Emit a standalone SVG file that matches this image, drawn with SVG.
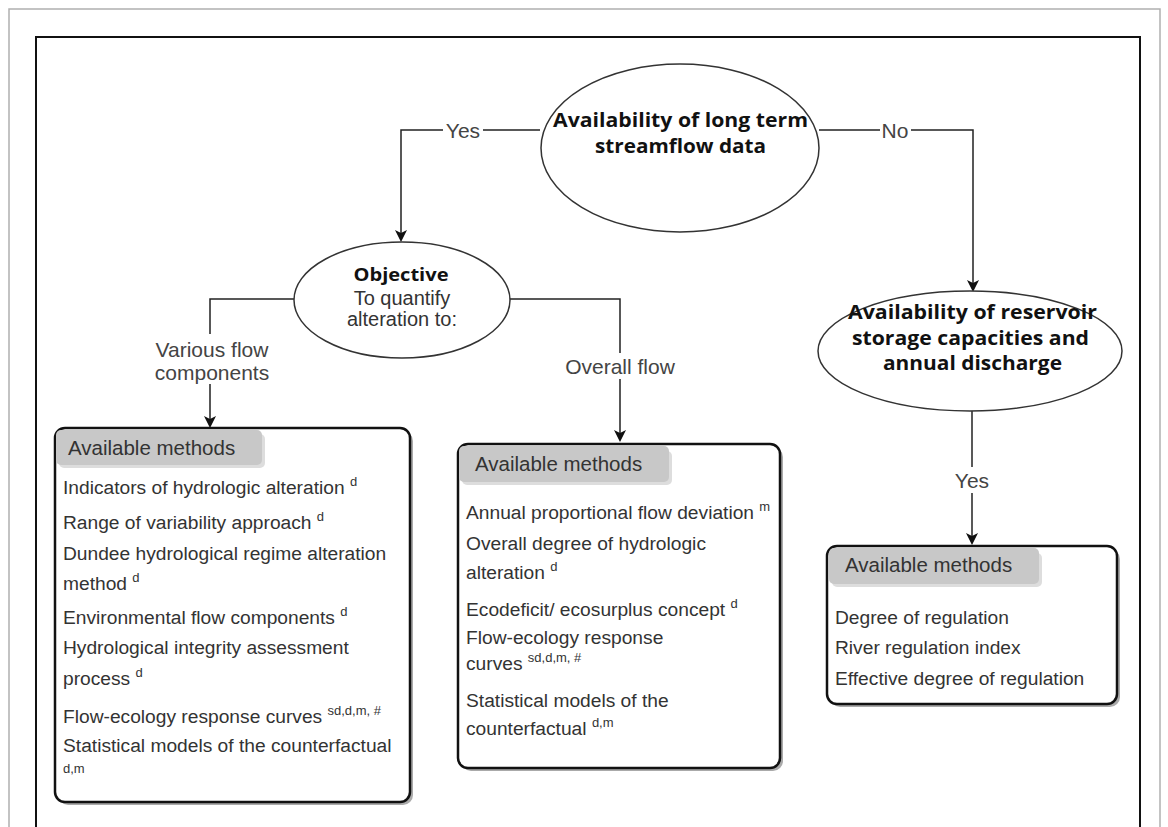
<svg xmlns="http://www.w3.org/2000/svg" width="1168" height="827" viewBox="0 0 1168 827">
<style>
.ell{fill:#fff;stroke:#333;stroke-width:1.5}
.bt{font-family:"Open Sans","Liberation Sans",Arial,sans-serif;font-weight:bold;font-size:19.5px;fill:#111;text-anchor:middle}
.lbl{font-family:"Liberation Sans",Arial,sans-serif;font-size:21px;fill:#444;text-anchor:middle}
.it{font-family:"Liberation Sans",Arial,sans-serif;font-size:19.2px;fill:#333}
.sup{font-size:13px}
.hdr{font-family:"Liberation Sans",Arial,sans-serif;font-size:20.5px;fill:#333}
.box{fill:#fff;stroke:#111;stroke-width:2.5}
.shd{fill:#aaa}
.tab{fill:#c8c8c8}
.tabs{fill:#ddd}
.con{fill:none;stroke:#222;stroke-width:1.5}
</style>
<defs>
<marker id="arr" markerWidth="12" markerHeight="12" refX="10" refY="6" orient="auto" markerUnits="userSpaceOnUse">
<path d="M0,0 L12,6 L0,12 L3,6 z" fill="#111"/>
</marker>
</defs>
<rect x="0" y="0" width="1168" height="827" fill="#fff"/>
<path d="M9,827 V9 H1160 V827" fill="none" stroke="#b0b0b0" stroke-width="1.5"/>
<path d="M36,827 V37 H1140 V827" fill="none" stroke="#111" stroke-width="2"/>

<g id="connectors">
<path class="con" d="M540,130 H401 V240" marker-end="url(#arr)"/>
<path class="con" d="M819,130 H973 V290" marker-end="url(#arr)"/>
<path class="con" d="M294,299 H210 V426" marker-end="url(#arr)"/>
<path class="con" d="M509,299 H620 V440" marker-end="url(#arr)"/>
<path class="con" d="M972,410 V543" marker-end="url(#arr)"/>
<rect x="443" y="119" width="40" height="22" fill="#fff"/>
<text class="lbl" x="463" y="138">Yes</text>
<rect x="880" y="119" width="31" height="22" fill="#fff"/>
<text class="lbl" x="895" y="138">No</text>
<rect x="148" y="334" width="130" height="50" fill="#fff"/>
<text class="lbl" x="212" y="357">Various flow</text>
<text class="lbl" x="212" y="380">components</text>
<rect x="560" y="353" width="120" height="26" fill="#fff"/>
<text class="lbl" x="620" y="374">Overall flow</text>
<rect x="952" y="467" width="40" height="26" fill="#fff"/>
<text class="lbl" x="972" y="488">Yes</text>
</g>

<g id="node-streamflow">
<ellipse class="ell" cx="680" cy="148" rx="139" ry="84"/>
<text class="bt" x="680.5" y="127" textLength="255" lengthAdjust="spacingAndGlyphs">Availability of long term</text>
<text class="bt" x="680.5" y="153" textLength="171" lengthAdjust="spacingAndGlyphs">streamflow data</text>
</g>

<g id="node-objective">
<ellipse class="ell" cx="402" cy="300" rx="108" ry="58"/>
<text class="bt" x="401" y="281" style="font-size:18.5px" textLength="95" lengthAdjust="spacingAndGlyphs">Objective</text>
<text class="lbl" x="402" y="305" style="fill:#333;font-size:20px">To quantify</text>
<text class="lbl" x="402" y="326" style="fill:#333;font-size:20px">alteration to:</text>
</g>

<g id="node-reservoir">
<ellipse class="ell" cx="970" cy="351" rx="152" ry="60"/>
<text class="bt" x="972.5" y="319" textLength="249" lengthAdjust="spacingAndGlyphs">Availability of reservoir</text>
<text class="bt" x="970.5" y="345" textLength="237" lengthAdjust="spacingAndGlyphs">storage capacities and</text>
<text class="bt" x="972.5" y="370" textLength="179" lengthAdjust="spacingAndGlyphs">annual discharge</text>
</g>

<g id="box-flow-components">
<rect class="shd" x="58" y="431" width="355" height="374" rx="10"/>
<rect class="box" x="55" y="428" width="355" height="374" rx="10"/>
<rect class="tabs" x="59" y="434" width="206" height="34" rx="5"/>
<rect class="tab" x="56" y="430" width="206" height="35" rx="5"/>
<text class="hdr" x="68" y="455">Available methods</text>
<text class="it" x="63" y="494">Indicators of hydrologic alteration <tspan class="sup" dy="-8">d</tspan></text>
<text class="it" x="63" y="529">Range of variability approach <tspan class="sup" dy="-8">d</tspan></text>
<text class="it" x="63" y="560">Dundee hydrological regime alteration</text>
<text class="it" x="63" y="590">method <tspan class="sup" dy="-8">d</tspan></text>
<text class="it" x="63" y="624">Environmental flow components <tspan class="sup" dy="-8">d</tspan></text>
<text class="it" x="63" y="654">Hydrological integrity assessment</text>
<text class="it" x="63" y="685">process <tspan class="sup" dy="-8">d</tspan></text>
<text class="it" x="63" y="723">Flow-ecology response curves <tspan class="sup" dy="-8">sd,d,m, #</tspan></text>
<text class="it" x="63" y="752">Statistical models of the counterfactual</text>
<text class="it sup" x="63" y="773">d,m</text>
</g>

<g id="box-overall-flow">
<rect class="shd" x="461" y="447" width="322" height="324" rx="10"/>
<rect class="box" x="458" y="444" width="322" height="324" rx="10"/>
<rect class="tabs" x="462" y="451" width="210" height="34" rx="5"/>
<rect class="tab" x="459" y="446" width="210" height="36" rx="5"/>
<text class="hdr" x="475" y="471">Available methods</text>
<text class="it" x="466" y="519">Annual proportional flow deviation <tspan class="sup" dy="-8">m</tspan></text>
<text class="it" x="466" y="550">Overall degree of hydrologic</text>
<text class="it" x="466" y="579">alteration <tspan class="sup" dy="-8">d</tspan></text>
<text class="it" x="466" y="616">Ecodeficit/ ecosurplus concept <tspan class="sup" dy="-8">d</tspan></text>
<text class="it" x="466" y="644">Flow-ecology response</text>
<text class="it" x="466" y="670">curves <tspan class="sup" dy="-8">sd,d,m, #</tspan></text>
<text class="it" x="466" y="707">Statistical models of the</text>
<text class="it" x="466" y="735">counterfactual <tspan class="sup" dy="-8">d,m</tspan></text>
</g>

<g id="box-reservoir">
<rect class="shd" x="830" y="549" width="290" height="158" rx="10"/>
<rect class="box" x="827" y="546" width="290" height="158" rx="10"/>
<rect class="tabs" x="832" y="553" width="210" height="34" rx="5"/>
<rect class="tab" x="829" y="548" width="210" height="36" rx="5"/>
<text class="hdr" x="845" y="572">Available methods</text>
<text class="it" x="835" y="624">Degree of regulation</text>
<text class="it" x="835" y="654">River regulation index</text>
<text class="it" x="835" y="685">Effective degree of regulation</text>
</g>
</svg>
